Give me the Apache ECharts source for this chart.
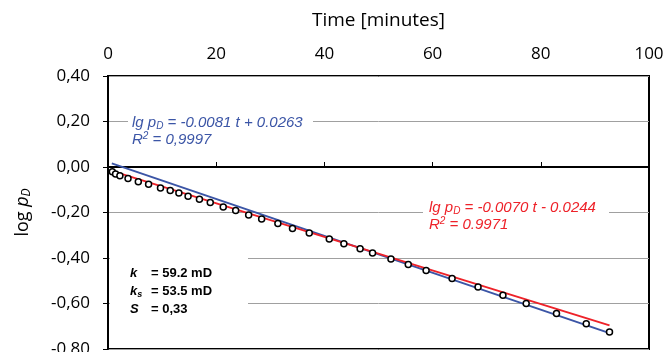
<!DOCTYPE html>
<html>
<head>
<meta charset="utf-8">
<script src="https://cdn.jsdelivr.net/npm/echarts@6/dist/echarts.min.js"></script>
<style>
  html, body { margin: 0; padding: 0; background: #fff; }
  #chart { width: 667px; height: 352px; }
</style>
</head>
<body>
<div id="chart"></div>
<script>
// measured points (time in minutes, log pD)
const timeMin = [0.8, 1.4, 2.2, 3.7, 5.6, 7.5, 9.7, 11.5, 13.1, 14.8, 16.9, 18.9, 21.3, 23.6,
  26.0, 28.4, 31.4, 34.1, 37.2, 40.9, 43.6, 46.6, 48.9, 52.3, 55.5, 58.8, 63.6, 68.4,
  73.0, 77.3, 82.9, 88.4, 92.7];
const logPd = [-0.021, -0.031, -0.038, -0.050, -0.065, -0.076, -0.092, -0.103, -0.114, -0.129,
  -0.142, -0.156, -0.176, -0.191, -0.211, -0.229, -0.248, -0.270, -0.290, -0.316, -0.337,
  -0.359, -0.378, -0.404, -0.429, -0.455, -0.490, -0.527, -0.564, -0.600, -0.644, -0.689, -0.725];

// trend lines as drawn (start / end)
const blueT = [0.7, 92.7];
const blueV = [0.016, -0.730];
const redT = [0.4, 92.7];
const redV = [-0.015, -0.696];

const xTicks = [0, 20, 40, 60, 80, 100];

const BLUE = "#3b55a6";
const RED = "#ee2229";
const AXIS_FONT = "Open Sans";
const NOTE_FONT = "Liberation Sans";

const pairs = (xs, ys) => xs.map((x, i) => [x, ys[i]]);

const chart = echarts.init(document.getElementById("chart"));

const noteRich = (color) => ({
  a: { fontFamily: NOTE_FONT, fontStyle: "italic", fontSize: 15, fill: color, lineHeight: 17 },
  s: { fontFamily: NOTE_FONT, fontStyle: "italic", fontSize: 10, fill: color, lineHeight: 17, padding: [8, 0, 0, 0] },
  p: { fontFamily: NOTE_FONT, fontStyle: "italic", fontSize: 10, fill: color, lineHeight: 17, padding: [0, 0, 6, 0] },
});

const option = {
  animation: false,
  backgroundColor: "#fff",
  grid: {
    left: 108, right: 18, top: 76, bottom: 3,
    outerBoundsMode: "none",
    containLabel: false,
    show: true, borderColor: "#000", borderWidth: 2,
  },
  xAxis: {
    type: "value",
    position: "top",
    min: 0, max: 100, interval: 20,
    name: "Time [minutes]",
    nameLocation: "middle",
    nameGap: 46,
    nameTextStyle: { fontFamily: AXIS_FONT, fontSize: 19, color: "#000" },
    axisLine: { lineStyle: { color: "#000", width: 2 } },
    axisTick: { show: true, length: 5, lineStyle: { color: "#000" } },
    axisLabel: {
      fontFamily: AXIS_FONT, fontSize: 17, color: "#000", margin: 13,
      formatter: (v) => (xTicks.includes(v) ? String(v) : ""),
    },
    splitLine: { show: false },
  },
  yAxis: {
    type: "value",
    min: -0.8, max: 0.4, interval: 0.2,
    name: "log {i|p}{s|D}",
    nameLocation: "middle",
    nameGap: 75,
    nameTextStyle: {
      fontFamily: AXIS_FONT, fontSize: 18, color: "#000",
      rich: {
        i: { fontFamily: AXIS_FONT, fontStyle: "italic", fontSize: 18, color: "#000" },
        s: { fontFamily: AXIS_FONT, fontStyle: "italic", fontSize: 12, color: "#000", padding: [8, 0, 0, 0] },
      },
    },
    axisLine: { show: true, lineStyle: { color: "#000", width: 2 } },
    axisTick: { show: true, length: 5, lineStyle: { color: "#000" } },
    axisLabel: {
      fontFamily: AXIS_FONT, fontSize: 17, color: "#000", margin: 18,
      formatter: (v) => v.toFixed(2).replace(".", ","),
    },
    splitLine: { show: true, lineStyle: { color: "#a0a0a0", width: 1 } },
  },
  series: [
    {
      name: "fit early",
      type: "line",
      data: pairs(blueT, blueV),
      showSymbol: false,
      lineStyle: { color: BLUE, width: 2 },
      z: 3,
    },
    {
      name: "fit late",
      type: "line",
      data: pairs(redT, redV),
      showSymbol: false,
      lineStyle: { color: RED, width: 2 },
      z: 4,
    },
    {
      name: "log pD",
      type: "scatter",
      data: pairs(timeMin, logPd),
      symbol: "circle",
      symbolSize: 6,
      itemStyle: { color: "#fff", borderColor: "#000", borderWidth: 1.5, opacity: 1 },
      z: 5,
    },
  ],
  graphic: [
    // white boxes behind the notes hide the gridlines
    { type: "rect", shape: { x: 128, y: 113, width: 185, height: 34 }, style: { fill: "#fff" }, z: 1 },
    { type: "rect", shape: { x: 423, y: 198, width: 186, height: 34 }, style: { fill: "#fff" }, z: 1 },
    { type: "rect", shape: { x: 110, y: 255, width: 138, height: 60 }, style: { fill: "#fff" }, z: 1 },
    {
      type: "text", x: 132, y: 114, z: 10,
      style: {
        text: "{a|lg p}{s|D}{a| = -0.0081 t + 0.0263}\n{a|R}{p|2}{a| = 0,9997}",
        rich: noteRich(BLUE),
        fill: BLUE,
        verticalAlign: "top",
      },
    },
    {
      type: "text", x: 429, y: 199, z: 10,
      style: {
        text: "{a|lg p}{s|D}{a| = -0.0070 t - 0.0244}\n{a|R}{p|2}{a| = 0.9971}",
        rich: noteRich(RED),
        fill: RED,
        verticalAlign: "top",
      },
    },
    {
      type: "text", x: 130, y: 264, z: 10,
      style: {
        text: "{a|k}\n{a|k}{s|s}\n{a|S}",
        verticalAlign: "top",
        rich: {
          a: { fontFamily: NOTE_FONT, fontStyle: "italic", fontWeight: "bold", fontSize: 13, fill: "#000", lineHeight: 18 },
          s: { fontFamily: NOTE_FONT, fontStyle: "italic", fontWeight: "bold", fontSize: 9, fill: "#000", lineHeight: 18, padding: [7, 0, 0, 0] },
        },
      },
    },
    {
      type: "text", x: 151, y: 264, z: 10,
      style: {
        text: "= 59.2 mD\n= 53.5 mD\n= 0,33",
        fontFamily: NOTE_FONT, fontWeight: "bold", fontSize: 13, fill: "#000",
        lineHeight: 18, verticalAlign: "top",
      },
    },
  ],
};

chart.setOption(option);
</script>
</body>
</html>
